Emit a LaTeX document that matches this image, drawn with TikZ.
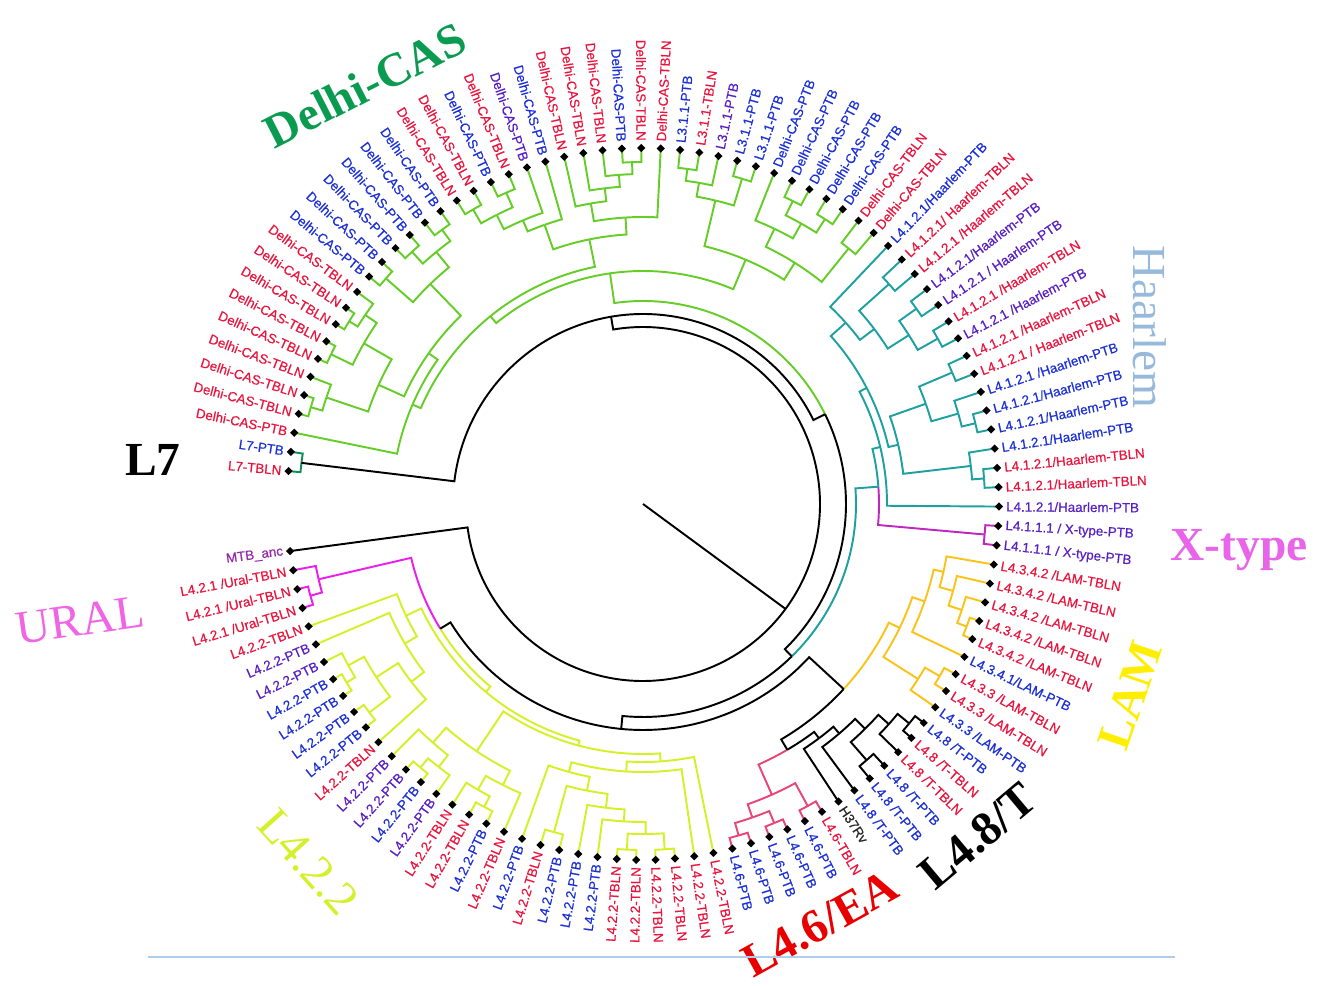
\documentclass[tikz,border=0pt]{standalone}
\usepackage{fontspec}
\setmainfont{Liberation Serif}
\newfontfamily\labfont[FakeBold=0.6]{Liberation Sans}
\usetikzlibrary{shapes.geometric}

\definecolor{tbred}{RGB}{232,22,62}
\definecolor{ptbblue}{RGB}{28,48,214}
\definecolor{ptbviolet}{RGB}{88,32,196}
\definecolor{ancviolet}{RGB}{150,40,170}
\definecolor{delhigreen}{RGB}{102,204,40}
\definecolor{haarteal}{RGB}{30,160,160}
\definecolor{xmag}{RGB}{190,40,190}
\definecolor{uralmag}{RGB}{235,30,235}
\definecolor{lfourtwo}{RGB}{212,240,40}
\definecolor{lamgold}{RGB}{250,195,25}
\definecolor{eapink}{RGB}{232,70,120}
\definecolor{lsevengreen}{RGB}{20,140,90}
\definecolor{delhiname}{RGB}{10,155,80}
\definecolor{haarname}{RGB}{150,185,220}
\definecolor{xname}{RGB}{232,100,232}
\definecolor{lamname}{RGB}{255,238,0}
\definecolor{eaname}{RGB}{232,0,0}
\definecolor{uralname}{RGB}{240,100,230}
\definecolor{rulecol}{RGB}{175,205,235}

\tikzset{
  branch/.style={line width=1.1pt},
  tipdot/.style={diamond,fill=black,inner sep=0pt,minimum size=0.17cm},
  tiplab/.style={font=\labfont\fontsize{7.6}{8}\selectfont,inner sep=0.5pt},
  bigname/.style={inner sep=0pt,font=\fontsize{27}{27}\selectfont},
  bigbold/.style={inner sep=0pt,font=\bfseries\fontsize{27}{27}\selectfont},
}

% ta@ = angle, tr@ = radius of a tip or clade
\newcommand\splitclade[6]{%
  \pgfmathsetmacro\cla{\csname ta@#5\endcsname}%
  \pgfmathsetmacro\clb{\csname ta@#6\endcsname}%
  \pgfmathsetmacro\clm{(\cla+\clb)/2}%
  \edef\clra{\csname tr@#5\endcsname}%
  \edef\clrb{\csname tr@#6\endcsname}%
  \draw[branch,#3] (\cla:\clra) -- (\cla:#2) arc[start angle=\cla,end angle=\clm,radius=#2*0.02cm];
  \draw[branch,#4] (\clm:#2) arc[start angle=\clm,end angle=\clb,radius=#2*0.02cm] -- (\clb:\clrb);
  \coordinate (#1) at (\clm:#2);
  \expandafter\xdef\csname ta@#1\endcsname{\clm}%
  \expandafter\xdef\csname tr@#1\endcsname{#2}%
}
\newcommand\clade[4]{\splitclade{#1}{#2}{}{}{#3}{#4}}

\newcommand\leaf[3]{%
  \pgfmathsetmacro\lfa{\csname ta@#1\endcsname}%
  \pgfmathtruncatemacro\lfside{abs(\lfa)>90}%
  \node[tipdot] (t#1) at (\lfa:356) {};
  \ifnum\lfside=1
    \pgfmathsetmacro\lfr{\lfa>0 ? \lfa-180 : \lfa+180}%
    \node[tiplab,text=#3,rotate=\lfr,anchor=east] (l#1) at (\lfa:362) {#2};
  \else
    \node[tiplab,text=#3,rotate=\lfa,anchor=west] (l#1) at (\lfa:362) {#2};
  \fi
}

\begin{document}
\begin{tikzpicture}[x=0.02cm,y=0.02cm]
\useasboundingbox (-643,-482) rectangle (682,504);
\coordinate (ctr) at (0,0);

% tips: MTB_anc first, L7-TBLN last
\foreach \i in {0,...,111}{%
  \pgfmathsetmacro\tipa{-172.4+3.127*\i}%
  \expandafter\xdef\csname ta@\i\endcsname{\tipa}%
  \expandafter\xdef\csname tr@\i\endcsname{356}%
}

% Ural and L4.2.2
\begin{scope}[uralmag]
  \clade{u1}{345}{2}{3}
  \clade{u2}{333}{1}{u1}
\end{scope}
\begin{scope}[lfourtwo]
  \clade{y1}{346}{7}{8}
  \clade{y2}{336}{6}{y1}
  \clade{y3}{344}{9}{10}
  \clade{y4}{318}{y2}{y3}
  \clade{y5}{292}{y4}{11}
  \clade{y6}{276}{5}{y5}
  \clade{y7}{262}{4}{y6}
  \clade{y8}{345}{13}{14}
  \clade{y9}{333}{y8}{15}
  \clade{y10}{318}{12}{y9}
  \clade{y11}{342}{17}{18}
  \clade{y12}{330}{16}{y11}
  \clade{y13}{314}{y12}{19}
  \clade{y14}{298}{y10}{y13}
  \clade{y16}{340}{21}{22}
  \clade{y17}{346}{25}{26}
  \clade{y18}{346}{27}{28}
  \clade{y19}{330}{y17}{y18}
  \clade{y20}{318}{24}{y19}
  \clade{y21}{306}{23}{y20}
  \clade{y22}{292}{y16}{y21}
  \clade{y23}{278}{20}{y22}
  \clade{y24}{268}{y23}{29}
  \clade{y25}{258}{y24}{30}
  \clade{y26}{250}{y14}{y25}
  \clade{y27}{245}{y7}{y26}
\end{scope}
\splitclade{UL}{238}{uralmag}{lfourtwo}{u2}{y27}

% L4.6, H37Rv and L4.8
\begin{scope}[eapink]
  \clade{p1}{345}{31}{32}
  \clade{p2}{345}{33}{34}
  \clade{p3}{332}{p1}{p2}
  \clade{p4}{344}{35}{36}
  \clade{p5}{318}{p3}{p4}
\end{scope}
\clade{w1}{345}{42}{43}
\clade{w2}{330}{41}{w1}
\clade{w3}{340}{39}{40}
\clade{w4}{316}{w3}{w2}
\clade{w5}{302}{38}{w4}
\clade{w6}{293}{37}{w5}
\splitclade{EAT}{285}{eapink}{black}{p5}{w6}

% LAM
\begin{scope}[lamgold]
  \clade{m1}{346}{48}{49}
  \clade{m2}{336}{50}{m1}
  \clade{m3}{322}{51}{m2}
  \clade{m4}{308}{52}{m3}
  \clade{m5}{298}{m4}{47}
  \clade{m6}{343}{45}{46}
  \clade{m7}{326}{44}{m6}
  \clade{m8}{285}{m7}{m5}
\end{scope}
\splitclade{LLM}{273}{black}{lamgold}{EAT}{m8}
\clade{OTHER}{226}{UL}{LLM}

% X-type and Haarlem
\begin{scope}[xmag]
  \clade{x1}{343}{53}{54}
\end{scope}
\begin{scope}[haarteal]
  \clade{h1}{342}{56}{57}
  \clade{h2}{330}{h1}{58}
  \clade{h4}{342}{59}{60}
  \clade{h5}{328}{h4}{61}
  \clade{h6}{336}{62}{63}
  \clade{h7}{300}{h5}{h6}
  \clade{h8}{262}{h2}{h7}
  \clade{h9}{338}{64}{65}
  \clade{h10}{336}{66}{67}
  \clade{h11}{315}{h9}{h10}
  \clade{h12}{330}{68}{69}
  \clade{h13}{290}{h11}{h12}
  \clade{h14}{272}{h13}{70}
  \clade{h15}{252}{h8}{h14}
  \clade{h16}{244}{55}{h15}
\end{scope}
\splitclade{HX}{236}{xmag}{haarteal}{x1}{h16}
\splitclade{LFOUR}{213}{black}{haarteal}{OTHER}{HX}

% L3, Delhi-CAS
\begin{scope}[delhigreen]
  \clade{g1}{338}{73}{74}
  \clade{g2}{338}{75}{76}
  \clade{g3}{322}{g1}{g2}
  \clade{g4}{305}{g3}{77}
  \clade{g5}{328}{71}{72}
  \clade{g6}{285}{g5}{g4}
  \clade{q1}{338}{81}{82}
  \clade{q2}{326}{80}{q1}
  \clade{q3}{340}{78}{79}
  \clade{q4}{312}{q3}{q2}
  \clade{RG}{265}{g6}{q4}
  \clade{d1}{342}{84}{85}
  \clade{d2}{330}{d1}{86}
  \clade{d3}{318}{d2}{87}
  \clade{d4}{305}{d3}{88}
  \clade{d5}{287}{83}{d4}
  \clade{d6}{340}{91}{92}
  \clade{d7}{340}{93}{94}
  \clade{d8}{324}{d6}{d7}
  \clade{d9}{308}{90}{d8}
  \clade{d10}{296}{89}{d9}
  \clade{d11}{270}{d5}{d10}
  \clade{d12}{340}{95}{96}
  \clade{d13}{342}{97}{98}
  \clade{d14}{326}{d12}{d13}
  \clade{d15}{342}{99}{100}
  \clade{d16}{306}{d14}{d15}
  \clade{d17}{346}{102}{103}
  \clade{d18}{336}{101}{d17}
  \clade{d19}{346}{104}{105}
  \clade{d20}{322}{d18}{d19}
  \clade{d21}{346}{107}{108}
  \clade{d22}{334}{106}{d21}
  \clade{d23}{290}{d20}{d22}
  \clade{d24}{262}{d16}{d23}
  \clade{d25}{251}{d24}{109}
  \clade{LG}{242}{d11}{d25}
  \clade{LTHREE}{233}{RG}{LG}
\end{scope}
\splitclade{LTL}{203}{black}{delhigreen}{LFOUR}{LTHREE}
\begin{scope}[lsevengreen]
  \clade{LSEV}{344}{110}{111}
\end{scope}
\clade{TOP}{190}{LTL}{LSEV}
\clade{ROOT}{177}{0}{TOP}
\draw[branch] (ctr) -- (ROOT);

% tip labels
\leaf{0}{MTB\_anc}{ancviolet}
\foreach \i in {1,2,3}{\leaf{\i}{L4.2.1 /Ural-TBLN}{tbred}}
\foreach \i/\s/\col in {4/TBLN/tbred,5/PTB/ptbviolet,6/PTB/ptbviolet,7/PTB/ptbblue,8/PTB/ptbblue,
  9/PTB/ptbblue,10/PTB/ptbblue,11/TBLN/tbred,12/PTB/ptbviolet,13/PTB/ptbviolet,14/PTB/ptbblue,
  15/PTB/ptbviolet,16/TBLN/tbred,17/TBLN/tbred,18/PTB/ptbblue,19/TBLN/tbred,20/PTB/ptbblue,
  21/TBLN/tbred,22/PTB/ptbblue,23/PTB/ptbblue,24/PTB/ptbblue,25/TBLN/tbred,26/TBLN/tbred,
  27/TBLN/tbred,28/TBLN/tbred,29/TBLN/tbred,30/TBLN/tbred}{\leaf{\i}{L4.2.2-\s}{\col}}
\foreach \i in {31,...,35}{\leaf{\i}{L4.6-PTB}{ptbblue}}
\leaf{36}{L4.6-TBLN}{tbred}
\leaf{37}{H37Rv}{black!85}
\foreach \i/\s/\col in {38/PTB/ptbblue,39/PTB/ptbblue,40/PTB/ptbblue,41/TBLN/tbred,
  42/TBLN/tbred,43/PTB/ptbblue}{\leaf{\i}{L4.8 /T-\s}{\col}}
\leaf{44}{L4.3.3 /LAM-PTB}{ptbblue}
\leaf{45}{L4.3.3 /LAM-TBLN}{tbred}
\leaf{46}{L4.3.3 /LAM-TBLN}{tbred}
\leaf{47}{L4.3.4.1/LAM-PTB}{ptbblue}
\foreach \i in {48,...,52}{\leaf{\i}{L4.3.4.2 /LAM-TBLN}{tbred}}
\foreach \i in {53,54}{\leaf{\i}{L4.1.1.1 / X-type-PTB}{ptbviolet}}
\leaf{55}{L4.1.2.1/Haarlem-PTB}{ptbviolet}
\leaf{56}{L4.1.2.1/Haarlem-TBLN}{tbred}
\leaf{57}{L4.1.2.1/Haarlem-TBLN}{tbred}
\leaf{58}{L4.1.2.1/Haarlem-PTB}{ptbblue}
\leaf{59}{L4.1.2.1/Haarlem-PTB}{ptbblue}
\leaf{60}{L4.1.2.1/Haarlem-PTB}{ptbblue}
\leaf{61}{L4.1.2.1 /Haarlem-PTB}{ptbblue}
\leaf{62}{L4.1.2.1 / Haarlem-TBLN}{tbred}
\leaf{63}{L4.1.2.1 /Haarlem-TBLN}{tbred}
\leaf{64}{L4.1.2.1 /Haarlem-PTB}{ptbviolet}
\leaf{65}{L4.1.2.1 /Haarlem-TBLN}{tbred}
\leaf{66}{L4.1.2.1 / Haarlem-PTB}{ptbviolet}
\leaf{67}{L4.1.2.1/Haarlem-PTB}{ptbviolet}
\leaf{68}{L4.1.2.1 /Haarlem-TBLN}{tbred}
\leaf{69}{L4.1.2.1/ Haarlem-TBLN}{tbred}
\leaf{70}{L4.1.2.1/Haarlem-PTB}{ptbblue}
\foreach \i in {71,72}{\leaf{\i}{Delhi-CAS-TBLN}{tbred}}
\foreach \i in {73,...,77}{\leaf{\i}{Delhi-CAS-PTB}{ptbblue}}
\foreach \i/\s/\col in {78/PTB/ptbblue,79/PTB/ptbblue,80/PTB/ptbviolet,81/TBLN/tbred,
  82/PTB/ptbblue}{\leaf{\i}{L3.1.1-\s}{\col}}
\foreach \i/\s/\col in {83/TBLN/tbred,84/TBLN/tbred,85/PTB/ptbblue,86/TBLN/tbred,87/TBLN/tbred,
  88/TBLN/tbred,89/PTB/ptbblue,90/PTB/ptbviolet,91/TBLN/tbred,92/PTB/ptbblue,93/TBLN/tbred,
  94/TBLN/tbred,95/PTB/ptbblue,96/PTB/ptbblue,97/PTB/ptbblue,98/PTB/ptbblue,99/PTB/ptbblue,
  100/PTB/ptbblue,101/TBLN/tbred,102/TBLN/tbred,103/TBLN/tbred,104/TBLN/tbred,105/TBLN/tbred,
  106/TBLN/tbred,107/TBLN/tbred,108/TBLN/tbred,109/PTB/tbred}{\leaf{\i}{Delhi-CAS-\s}{\col}}
\leaf{110}{L7-PTB}{ptbblue}
\leaf{111}{L7-TBLN}{tbred}

% lineage names
\node[bigbold,text=delhiname,rotate=27] (delhi) at (-278,419) {Delhi-CAS};
\node[bigname,text=haarname,rotate=-90] (haarlem) at (507,177) {Haarlem};
\node[bigbold,text=xname] (xtype) at (596,-46) {X-type};
\node[bigbold,text=lamname,rotate=71] (lam) at (487,-191) {LAM};
\node[bigbold,rotate=40] (lfoureight) at (335,-332) {L4.8/T};
\node[bigbold,text=eaname,rotate=29] (lfoursix) at (177,-420) {L4.6/EA};
\node[bigname,text=lfourtwo,rotate=-48] (lfourtwotwo) at (-335,-358) {L4.2.2};
\node[bigname,text=uralname,rotate=8] (ural) at (-563,-116) {URAL};
\node[bigbold] (lseven) at (-490,44) {L7};

\coordinate (rulel) at (-495,-453);
\coordinate (ruler) at (532,-453);
\draw[rulecol,line width=0.8pt] (rulel) -- (ruler);
\end{tikzpicture}
\end{document}
